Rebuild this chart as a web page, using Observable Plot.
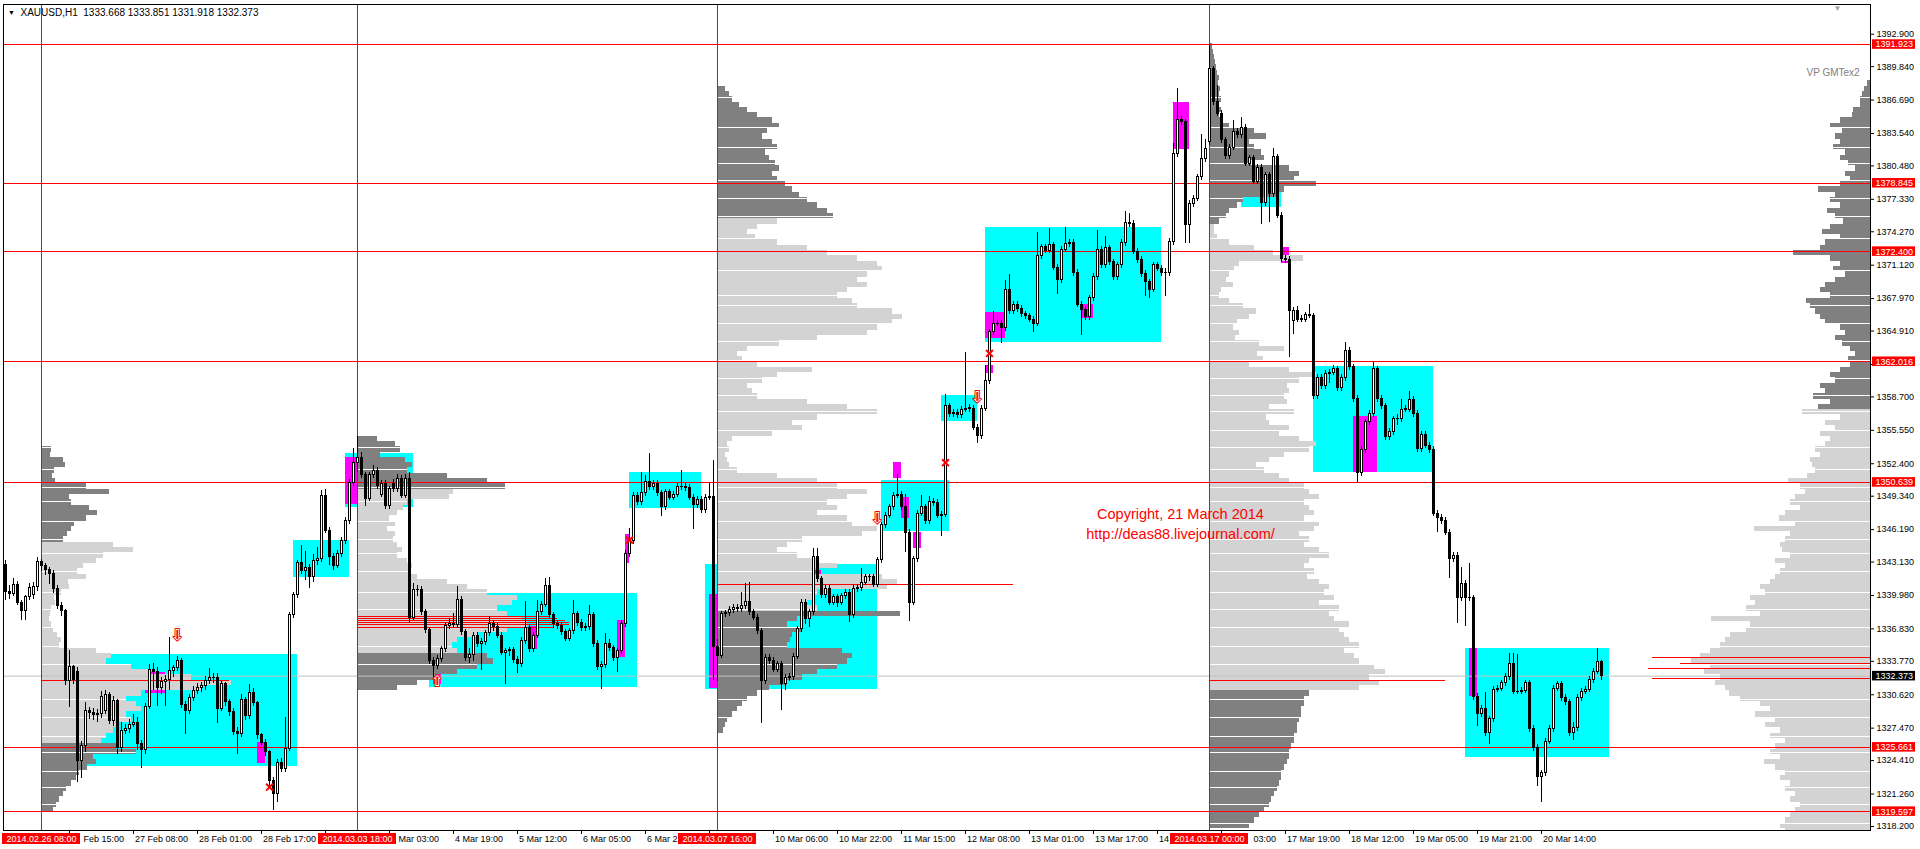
<!DOCTYPE html>
<html><head><meta charset="utf-8">
<script src="https://cdn.jsdelivr.net/npm/d3@7"></script>
<script src="https://cdn.jsdelivr.net/npm/@observablehq/plot@0.6"></script>
<style>html,body{margin:0;padding:0;background:#fff;overflow:hidden;}</style>
</head><body>
<script>
// ---------------- DATA ----------------
const opens = [
1342.9,1340.3,1340.1,1341.0,1339.3,1338.5,1339.8,1340.0,1340.8,1343.1,
1342.8,1342.4,1342.0,1340.6,1339.0,1338.5,1331.9,1333.2,1332.8,1324.4,
1325.8,1329.1,1328.9,1328.7,1328.8,1329.1,1330.6,1328.1,1330.0,1325.6,
1327.2,1327.4,1327.8,1328.0,1326.0,1325.4,1329.5,1333.0,1332.8,1331.3,
1331.8,1332.0,1332.9,1333.1,1333.8,1329.7,1329.1,1330.3,1331.0,1331.3,
1331.4,1331.9,1332.2,1332.2,1329.3,1331.6,1329.9,1329.0,1327.1,1326.9,
1330.1,1328.6,1330.8,1329.8,1326.8,1326.1,1325.2,1322.5,1321.3,1324.2,
1323.6,1325.5,1338.1,1340.0,1343.0,1342.3,1342.6,1341.7,1343.2,1343.4,
1349.4,1346.1,1343.6,1342.8,1343.9,1345.1,1347.0,1350.6,1352.5,1352.9,
1351.3,1349.1,1351.3,1351.7,1349.5,1350.5,1348.4,1350.5,1350.0,1351.0,
1349.4,1351.0,1337.9,1340.5,1340.5,1338.4,1336.7,1333.8,1333.3,1334.0,
1334.9,1337.1,1337.3,1337.2,1339.6,1336.5,1334.1,1334.4,1336.2,1335.4,
1335.6,1336.4,1337.3,1337.0,1336.2,1334.6,1334.7,1334.8,1333.9,1333.5,
1335.7,1336.9,1334.9,1336.2,1338.4,1339.1,1340.9,1338.1,1337.3,1337.1,
1336.5,1335.9,1336.6,1338.2,1337.4,1336.9,1337.0,1338.1,1335.4,1333.2,
1333.4,1335.4,1335.0,1334.1,1334.7,1337.3,1343.9,1345.1,1349.4,1348.8,
1349.6,1350.7,1350.2,1350.5,1349.6,1348.3,1349.7,1349.2,1349.5,1350.2,
1350.2,1350.1,1349.2,1348.5,1349.0,1348.0,1349.2,1349.3,1335.1,1334.3,
1338.2,1338.3,1338.6,1338.8,1338.7,1339.0,1339.4,1338.4,1337.9,1336.6,
1331.9,1334.1,1333.8,1333.0,1333.5,1331.6,1332.2,1332.3,1334.2,1336.8,
1339.3,1337.8,1338.4,1343.6,1341.5,1340.0,1340.6,1339.3,1339.8,1339.3,
1339.9,1340.2,1338.1,1340.6,1340.7,1341.2,1341.7,1341.7,1341.0,1343.3,
1346.6,1347.5,1348.3,1349.4,1349.5,1348.3,1345.9,1339.3,1343.4,1347.7,
1348.3,1347.0,1348.8,1348.7,1347.5,1347.6,1357.8,1357.1,1357.2,1357.0,
1357.5,1357.6,1357.6,1355.8,1355.0,1357.6,1360.2,1364.8,1365.6,1365.6,
1365.2,1368.8,1366.8,1367.4,1367.0,1366.5,1366.3,1366.0,1365.6,1372.0,
1372.8,1372.5,1373.0,1370.9,1369.7,1372.6,1373.1,1373.2,1370.4,1367.4,
1366.9,1366.2,1368.0,1370.0,1372.6,1371.1,1372.7,1371.4,1370.0,1371.1,
1373.2,1375.1,1375.0,1372.4,1371.6,1370.3,1369.5,1368.8,1371.1,1370.8,
1370.4,1370.4,1373.3,1381.6,1384.8,1384.6,1374.9,1376.9,1377.4,1379.4,
1381.1,1382.7,1389.6,1386.5,1385.4,1382.9,1381.4,1382.2,1383.7,1383.4,
1384.1,1380.7,1381.2,1379.0,1380.3,1377.0,1379.6,1377.8,1381.3,1375.8,
1371.7,1371.6,1365.9,1366.8,1366.0,1366.0,1366.4,1366.3,1358.8,1360.5,
1359.7,1360.9,1361.0,1361.3,1359.5,1360.5,1363.0,1361.5,1358.5,1351.5,
1353.7,1356.3,1357.1,1361.3,1358.5,1357.8,1354.9,1355.4,1356.6,1356.6,
1357.5,1357.5,1358.4,1357.1,1353.8,1355.1,1354.1,1353.7,1347.7,1347.3,
1347.0,1345.9,1343.4,1343.7,1339.7,1341.1,1339.7,1339.7,1330.4,1328.8,
1329.3,1327.0,1328.3,1331.1,1331.2,1331.7,1332.3,1333.5,1330.9,1330.9,
1331.0,1331.7,1327.4,1325.6,1322.9,1323.2,1326.2,1327.4,1331.2,1331.6,
1330.3,1329.9,1327.0,1327.5,1330.3,1330.9,1331.1,1332.0,1332.8,1333.668];
const highs = [
1343.3,1340.9,1341.6,1341.3,1339.5,1340.0,1341.1,1341.2,1343.6,1343.4,
1343.0,1342.6,1342.3,1340.9,1339.3,1338.7,1334.8,1333.4,1333.2,1326.2,
1329.9,1329.4,1329.3,1329.2,1330.9,1331.0,1330.8,1330.5,1330.2,1328.0,
1327.8,1328.3,1328.8,1328.5,1326.3,1329.8,1333.5,1333.6,1333.2,1332.2,
1332.4,1336.0,1333.4,1334.2,1334.0,1330.0,1330.6,1331.4,1331.7,1331.8,
1332.3,1333.1,1332.6,1332.6,1331.9,1331.8,1330.2,1329.3,1327.5,1330.6,
1330.4,1331.6,1331.2,1330.0,1327.0,1326.4,1325.4,1322.8,1324.5,1324.6,
1328.5,1338.4,1340.3,1343.3,1344.7,1344.1,1342.9,1343.8,1344.5,1349.9,
1350.0,1346.4,1343.9,1344.2,1345.4,1347.3,1350.9,1353.8,1355.0,1353.5,
1351.6,1351.6,1352.2,1352.0,1350.8,1350.8,1350.3,1350.9,1351.4,1351.3,
1351.4,1351.6,1341.1,1340.9,1340.8,1338.7,1337.0,1334.1,1334.3,1335.2,
1337.4,1337.8,1338.3,1340.8,1339.9,1336.8,1335.0,1336.5,1336.5,1335.9,
1336.7,1338.0,1337.6,1337.3,1336.5,1335.0,1335.1,1335.1,1334.2,1336.0,
1339.4,1337.2,1336.5,1339.5,1339.4,1341.6,1341.7,1338.4,1337.6,1337.4,
1336.8,1336.9,1339.5,1338.5,1337.7,1337.3,1339.0,1338.4,1335.7,1333.8,
1336.4,1335.8,1335.3,1335.0,1337.6,1344.2,1346.3,1349.7,1349.7,1351.6,
1351.3,1353.4,1350.8,1350.8,1349.9,1350.0,1350.0,1349.8,1350.5,1351.8,
1350.5,1350.4,1349.5,1349.3,1349.3,1349.5,1350.6,1352.7,1335.8,1338.5,
1338.6,1338.9,1339.1,1339.1,1340.3,1341.1,1341.2,1338.7,1338.2,1336.9,
1334.4,1334.4,1334.1,1333.8,1333.8,1332.5,1332.6,1334.5,1337.1,1339.6,
1339.6,1338.7,1344.4,1344.4,1341.8,1340.9,1340.9,1340.1,1340.1,1340.2,
1340.5,1340.5,1340.9,1341.0,1342.5,1342.0,1342.0,1342.0,1343.6,1346.9,
1347.8,1348.6,1349.7,1351.4,1349.8,1349.5,1346.2,1343.7,1348.0,1349.4,
1348.6,1349.3,1349.1,1349.0,1347.9,1358.9,1358.1,1357.5,1357.5,1357.8,
1362.9,1358.0,1357.9,1356.1,1357.9,1361.7,1365.1,1366.8,1365.9,1365.9,
1369.7,1370.2,1367.7,1367.7,1367.3,1366.8,1366.6,1366.3,1374.2,1373.1,
1373.1,1374.6,1373.3,1371.2,1372.9,1374.7,1373.5,1373.5,1370.7,1367.7,
1367.2,1368.3,1370.3,1374.4,1372.9,1373.8,1373.0,1371.7,1371.4,1373.5,
1376.2,1376.0,1375.3,1372.7,1371.9,1370.6,1369.8,1371.4,1371.4,1371.1,
1370.8,1373.6,1382.6,1387.8,1385.1,1384.9,1377.2,1377.7,1379.7,1383.4,
1383.0,1391.9,1389.9,1388.1,1385.7,1383.2,1382.5,1384.8,1384.0,1385.0,
1384.4,1381.5,1381.5,1380.6,1380.6,1379.9,1379.9,1382.1,1381.6,1376.1,
1372.0,1371.9,1367.1,1367.2,1366.4,1366.7,1367.4,1366.6,1360.8,1360.8,
1361.2,1361.3,1361.7,1361.6,1360.8,1363.8,1363.4,1361.8,1358.8,1354.0,
1356.6,1357.4,1361.9,1361.6,1358.8,1358.1,1355.7,1356.9,1357.0,1358.5,
1357.9,1359.2,1358.7,1357.4,1355.4,1355.4,1354.4,1354.0,1348.0,1347.6,
1347.3,1346.2,1344.0,1344.0,1342.6,1341.4,1343.0,1340.0,1330.7,1329.6,
1330.8,1328.6,1331.4,1331.5,1332.0,1332.6,1334.5,1334.5,1334.4,1331.3,
1332.0,1332.0,1327.7,1325.9,1323.5,1326.5,1327.7,1331.5,1331.9,1331.9,
1330.6,1330.2,1328.0,1330.6,1331.2,1331.4,1332.3,1333.1,1335.0,1333.851];
const lows = [
1339.5,1339.6,1339.9,1339.0,1337.6,1337.6,1339.5,1339.6,1340.4,1342.2,
1341.9,1341.0,1340.2,1338.7,1338.0,1331.5,1329.4,1331.6,1322.3,1322.7,
1325.2,1328.3,1328.2,1328.0,1328.4,1328.8,1327.8,1327.6,1325.0,1325.2,
1326.9,1327.0,1327.5,1325.4,1323.7,1325.0,1329.2,1331.0,1329.5,1330.6,
1329.5,1331.0,1332.2,1332.8,1329.3,1326.9,1328.8,1330.0,1330.6,1330.8,
1331.0,1331.6,1331.7,1327.9,1329.0,1329.5,1328.6,1326.8,1325.0,1326.6,
1328.2,1328.3,1329.5,1326.4,1325.8,1324.8,1322.0,1319.7,1320.5,1323.3,
1323.3,1325.3,1337.8,1339.7,1342.0,1341.4,1340.6,1341.2,1342.8,1343.1,
1345.8,1342.8,1342.3,1342.5,1343.6,1344.8,1346.7,1350.3,1351.6,1351.0,
1348.4,1348.8,1351.0,1350.0,1349.2,1348.1,1348.1,1349.7,1349.7,1349.1,
1349.1,1337.3,1337.6,1339.9,1338.1,1336.4,1333.5,1332.2,1333.0,1333.7,
1334.6,1336.8,1336.9,1336.9,1336.2,1333.8,1333.6,1333.8,1335.1,1332.9,
1335.3,1336.1,1336.6,1335.9,1334.3,1331.6,1334.2,1333.6,1332.6,1333.2,
1335.4,1334.6,1334.6,1335.9,1338.1,1338.8,1337.8,1336.9,1336.8,1336.2,
1335.6,1335.6,1336.3,1337.1,1336.6,1336.6,1336.7,1335.1,1332.9,1331.1,
1333.1,1334.7,1333.8,1332.7,1334.4,1337.0,1343.6,1344.8,1348.5,1348.5,
1349.3,1349.9,1349.9,1349.3,1347.4,1348.0,1348.9,1348.9,1349.2,1349.9,
1349.8,1348.9,1346.2,1348.2,1347.7,1347.7,1348.9,1332.0,1331.9,1334.0,
1337.9,1338.0,1338.3,1338.4,1338.4,1338.7,1338.1,1337.6,1336.3,1327.9,
1331.6,1333.5,1332.7,1332.7,1329.1,1331.0,1331.9,1332.0,1333.9,1336.5,
1337.2,1337.0,1338.1,1341.2,1339.7,1339.7,1339.0,1339.0,1338.8,1339.0,
1339.6,1337.4,1337.8,1340.3,1340.4,1340.9,1341.3,1340.7,1340.7,1343.0,
1346.3,1347.2,1348.0,1349.1,1348.0,1344.0,1337.5,1339.0,1343.1,1347.4,
1346.7,1346.7,1348.4,1347.2,1345.5,1347.3,1356.8,1356.8,1356.7,1356.7,
1357.2,1357.2,1355.5,1354.3,1354.7,1357.3,1359.9,1364.5,1365.3,1363.7,
1364.9,1366.5,1366.5,1366.7,1366.2,1366.0,1365.7,1364.8,1365.3,1371.7,
1372.2,1372.2,1370.6,1368.4,1369.4,1372.3,1372.8,1370.1,1367.1,1364.5,
1365.9,1365.9,1367.7,1369.7,1370.8,1370.8,1371.1,1369.7,1369.7,1370.8,
1372.9,1374.7,1372.1,1371.3,1370.0,1368.2,1368.0,1368.5,1370.5,1370.1,
1368.2,1370.1,1373.0,1381.3,1384.3,1373.2,1373.2,1376.6,1377.1,1379.1,
1380.8,1382.4,1386.2,1385.1,1382.6,1381.1,1381.1,1381.9,1383.1,1383.1,
1380.4,1380.4,1378.7,1378.7,1375.0,1376.7,1375.1,1377.5,1375.5,1371.4,
1371.3,1362.4,1364.6,1365.7,1365.7,1365.7,1366.1,1358.5,1358.5,1359.4,
1359.4,1360.0,1360.7,1359.2,1359.2,1360.2,1361.2,1358.2,1350.6,1351.2,
1353.4,1356.0,1356.8,1358.2,1357.5,1354.6,1354.6,1355.1,1356.0,1356.3,
1357.2,1357.2,1356.8,1353.5,1353.5,1353.8,1353.4,1347.4,1345.9,1346.7,
1345.6,1341.6,1343.1,1337.3,1339.4,1337.1,1339.4,1330.1,1327.6,1328.5,
1326.7,1325.9,1328.0,1330.8,1330.9,1331.4,1332.0,1330.6,1330.6,1330.6,
1330.7,1327.1,1325.3,1322.0,1320.5,1322.9,1325.9,1327.1,1330.9,1330.0,
1329.6,1326.7,1326.3,1327.2,1330.0,1330.6,1330.8,1331.7,1332.5,1331.918];
const closes = [
1340.3,1340.1,1341.0,1339.3,1338.5,1339.8,1340.7,1340.8,1343.1,1342.8,
1342.4,1342.0,1340.6,1339.0,1338.5,1331.9,1333.2,1332.0,1324.4,1325.8,
1329.1,1328.9,1328.7,1328.8,1330.4,1330.6,1328.1,1330.0,1325.6,1327.2,
1327.4,1327.8,1328.0,1326.0,1325.4,1329.5,1333.0,1332.8,1331.3,1331.8,
1332.0,1332.9,1333.1,1333.8,1329.7,1329.1,1330.3,1331.0,1331.3,1331.4,
1331.9,1332.2,1332.2,1329.3,1331.6,1329.9,1329.0,1327.1,1326.9,1330.1,
1328.6,1330.8,1329.8,1326.8,1326.1,1325.2,1322.5,1321.3,1324.2,1323.6,
1325.5,1338.1,1340.0,1343.0,1342.3,1342.6,1341.7,1343.2,1343.4,1349.4,
1346.1,1343.6,1342.8,1343.9,1345.1,1347.0,1350.6,1352.5,1352.9,1351.3,
1349.1,1351.3,1351.7,1350.3,1350.5,1348.4,1350.0,1350.0,1351.0,1349.4,
1351.0,1337.9,1340.5,1340.5,1338.4,1336.7,1333.8,1333.3,1334.0,1334.9,
1337.1,1337.3,1337.2,1339.6,1336.5,1334.1,1334.4,1336.2,1335.4,1335.6,
1336.4,1337.3,1337.0,1336.2,1334.6,1334.7,1334.8,1333.9,1333.5,1335.7,
1336.9,1334.9,1336.2,1338.4,1339.1,1340.9,1338.1,1337.3,1337.1,1336.5,
1335.9,1336.6,1338.2,1337.4,1336.9,1337.0,1338.1,1335.4,1333.2,1333.4,
1335.4,1335.0,1334.1,1334.7,1337.3,1343.9,1345.1,1349.4,1348.8,1349.6,
1350.7,1350.2,1350.5,1349.6,1348.3,1349.7,1349.2,1349.5,1350.2,1350.2,
1350.1,1349.2,1348.5,1349.0,1348.0,1349.2,1349.3,1335.1,1334.3,1338.2,
1338.3,1338.6,1338.8,1338.7,1339.0,1339.4,1338.4,1337.9,1336.6,1331.9,
1334.1,1333.8,1333.0,1333.5,1331.6,1332.2,1332.3,1334.2,1336.8,1339.3,
1337.8,1338.4,1343.6,1341.5,1340.0,1340.6,1339.3,1339.8,1339.3,1339.9,
1340.2,1338.1,1340.6,1340.7,1341.2,1341.7,1341.7,1341.0,1343.3,1346.6,
1347.5,1348.3,1349.4,1349.5,1348.3,1345.9,1339.3,1343.4,1347.7,1348.3,
1347.0,1348.8,1348.7,1347.5,1347.6,1357.8,1357.1,1357.2,1357.0,1357.5,
1357.6,1357.6,1355.8,1355.0,1357.6,1360.2,1364.8,1365.6,1365.6,1365.2,
1368.8,1366.8,1367.4,1367.0,1366.5,1366.3,1366.0,1365.6,1372.0,1372.8,
1372.5,1373.0,1370.9,1369.7,1372.6,1373.1,1373.2,1370.4,1367.4,1366.9,
1366.2,1368.0,1370.0,1372.6,1371.1,1372.7,1371.4,1370.0,1371.1,1373.2,
1375.1,1375.0,1372.4,1371.6,1370.3,1369.5,1368.8,1371.1,1370.8,1370.4,
1370.4,1373.3,1381.6,1384.8,1384.6,1374.9,1376.9,1377.4,1379.4,1381.1,
1382.1,1389.6,1386.5,1385.4,1382.9,1381.4,1382.2,1383.7,1383.4,1384.1,
1380.7,1381.2,1379.0,1380.3,1377.0,1379.6,1377.8,1381.3,1375.8,1371.7,
1371.6,1366.8,1366.8,1366.0,1366.0,1366.4,1366.3,1358.8,1360.5,1359.7,
1360.9,1361.0,1361.3,1359.5,1360.5,1363.0,1361.5,1358.5,1351.5,1353.7,
1356.3,1357.1,1361.3,1358.5,1357.8,1354.9,1355.4,1356.6,1356.6,1357.5,
1357.5,1358.4,1357.1,1353.8,1355.1,1354.1,1353.7,1347.7,1347.3,1347.0,
1345.9,1343.4,1343.7,1339.7,1341.1,1339.7,1339.7,1330.4,1328.8,1329.3,
1327.0,1328.3,1331.1,1331.2,1331.7,1332.3,1333.5,1330.9,1330.9,1331.0,
1331.7,1327.4,1325.6,1322.9,1323.2,1326.2,1327.4,1331.2,1331.6,1330.3,
1329.9,1327.0,1327.5,1330.3,1330.9,1331.1,1332.0,1332.8,1333.7,1332.373];

// Volume profiles: bar widths (px of volume) per 0.5 price bin, from the top bin down
const p1W = [10,9,22,24,13,11,14,45,68,28,30,48,56,45,33,30,26,22,
72,92,62,55,42,36,45,27,28,20,13,14,10,9,8,10,12,16,20,18,55,70,65,90,110,150,190,160,100,85,95,100,85,90,78,72,65,60,
75,95,52,55,46,38,35,30,25,22,18,15,12];
const p2W = [20,38,43,23,48,55,50,90,130,148,
96,92,50,46,40,32,38,30,38,36,40,45,40,50,55,52,60,90,110,130,160,155,140,150,165,170,150,120,100,95,100,
130,136,120,100,80,60,40];
const p3W = [8,12,15,22,30,40,55,62,50,45,55,60,48,52,58,62,55,60,68,75,82,90,100,110,116,
60,40,30,38,60,90,110,140,160,165,150,140,150,130,120,135,140,175,185,175,160,150,100,62,30,20,25,40,95,60,
45,30,35,40,90,130,160,100,75,85,55,15,10,12,8,10,12,20,60,100,120,150,130,110,120,100,130,135,160,145,
85,70,60,80,100,120,95,165,180,170,100,95,90,100,
183,80,70,85,75,73,70,125,135,130,120,100,85,70,52,40,30,25,20,15,10,8,6];
const p4W = [3,4,5,6,7,8,10,9,11,10,12,10,12,10,14,20,45,57,40,45,52,55,42,80,90,85,107,75,70,34,28,20,17,10,
5,5,8,20,45,64,94,30,25,20,17,24,12,10,20,34,47,40,28,24,30,26,50,75,48,54,40,80,107,90,
78,80,75,78,60,85,57,60,80,70,90,107,100,75,60,47,55,70,80,95,100,110,95,100,105,95,110,105,90,100,
95,110,120,100,95,105,98,110,120,115,125,110,130,120,125,140,130,135,140,150,135,145,150,165,176,160,170,150,
100,95,95,92,92,90,88,88,85,85,82,80,80,78,75,72,72,70,68,65,62,60,55,50,45,40];
const p5W = [3,6,8,10,10,17,18,30,40,28,35,30,37,25,30,22,15,25,20,30,52,35,40,30,43,35,27,40,48,30,
45,50,77,40,30,37,25,35,45,50,40,64,60,55,50,45,30,25,35,28,20,15,22,20,30,40,35,50,45,57,40,52,
68,30,45,35,50,40,45,55,50,60,58,55,63,82,70,65,75,80,70,85,91,75,116,80,85,90,88,80,95,85,
90,95,100,110,105,120,115,124,110,159,120,124,140,145,150,160,170,179,160,166,150,155,145,141,130,110,100,115,95,105,
90,100,85,95,100,90,106,95,85,90,80,85,75,80,70,75,80,85,90,85];
// empty price rows seen as white hairlines across the profiles
const profileGaps = [1386.96,1384.1,1382.25,1380.7,1379.1,1377.4,1375.7,1373.6,1370.6,1368.3,1367.3,1365.6,1363.9,1362.1,
1360.4,1358.8,1357.3,1355.5,1353.96,1351.9,1350.2,1348.8,1347.0,1345.3,1343.9,1342.2,1340.3,1338.7,1337.0,1335.2,
1333.5,1330.2,1328.5,1326.7,1325.2,1323.4,1321.9,1320.3,1318.5];

// session starts (bar index) and their labels
const sessionBars = [9, 88, 178, 301];
const sessionLabels = ["2014.02.26 08:00", "2014.03.03 18:00", "2014.03.07 16:00", "2014.03.17 00:00"];
// profile anchors / tops / value-area limits
const profileAnchor = [9, 88, 178, 301, "right"];
const profileTop = [1354.0, 1355.0, 1388.0, 1392.0, 1388.5];
const profileVAHigh = [1345.0, 1350.0, 1375.5, 1375.0, 1357.5];
const profileVALow = [1326.0, 1334.5, 1338.5, 1331.0, -Infinity];

// balance boxes [startBar, endBar, low, high]
const cyanBoxes = [[19,73,1323.85,1334.45],[85,102,1348.3,1353.4],[72,86,1341.7,1345.2],[106,158,1331.3,1340.2],
[156,174,1348.2,1351.6],[175,218,1331.1,1342.9],[219,236,1346.0,1350.8],[234,243,1356.4,1358.8],
[245,289,1363.8,1374.7],[309,319,1376.6,1380.4],[327,357,1351.6,1361.6],[365,401,1324.7,1335.0]];
const magentaBoxes = [[107,109,1331.6,1332.9],[35,40,1330.7,1332.7],[63,65,1324.1,1326.1],[85,88,1348.6,1353.0],
[131,133,1334.9,1337.1],[153,155,1334.1,1337.6],[155,156,1343.0,1345.7],[176,178,1331.2,1340.1],
[202,204,1340.7,1342.3],[222,224,1351.0,1352.5],[224,226,1347.2,1349.2],[227,229,1344.4,1345.9],
[245,250,1364.2,1366.7],[245,247,1360.9,1361.7],[269,272,1366.1,1367.4],[292,296,1382.0,1386.5],
[319,321,1371.3,1372.8],[337,343,1351.6,1356.9],[366,368,1330.5,1335.0]];

// horizontal levels
const redLevels = [1391.923, 1378.845, 1372.400, 1362.016, 1350.639, 1325.661, 1319.597];
const currentPrice = 1332.373;
// naked POC segments [price, fromBar, toBar]
const pocLines = [[1332.0,9,56],[1337.0,88,137],[1337.2,88,141],[1337.4,88,141],[1337.6,88,140],[1337.8,88,138],[1338.0,88,136],
[1341.0,178,252],[1332.0,301,360],[1334.1,411.75,466.25],[1333.55,418.7,466.25],[1333.08,410.75,466.25],[1332.13,411.75,466.25]];

// signal markers [bar, price]
const downArrows = [[43,1336.2],[218,1347.3],[243,1358.7]];
const upArrows = [[108,1331.9]];
const crosses = [[66,1321.9],[156,1345.2],[235,1352.5],[246,1362.8]];

// axis ticks
const yTicks = [1392.900,1389.840,1386.690,1383.540,1380.480,1377.330,1374.270,1371.120,1367.970,1364.910,1361.760,
1358.700,1355.550,1352.400,1349.340,1346.190,1343.130,1339.980,1336.830,1333.770,1330.620,1327.470,1324.410,1321.260,1318.200];
const yTicksHidden = [1361.760];   // covered by the 1362.016 marker in the original
const xTickBars = [16,32,48,64,80,96,112,128,144,160,176,192,208,224,240,256,272,288,304,320,336,352,368,384];
const xTickLabels = ["26 Feb 15:00","27 Feb 08:00","28 Feb 01:00","28 Feb 17:00","3 Mar 10:00","4 Mar 03:00","4 Mar 19:00",
"5 Mar 12:00","6 Mar 05:00","6 Mar 21:00","7 Mar 14:00","10 Mar 06:00","10 Mar 22:00","11 Mar 15:00","12 Mar 08:00",
"13 Mar 01:00","13 Mar 17:00","14 Mar 10:00","17 Mar 03:00","17 Mar 19:00","18 Mar 12:00","19 Mar 05:00","19 Mar 21:00","20 Mar 14:00"];
// the part of each tick label that is left visible next to the red session stamps
const xTickVisible = ["Feb 15:00","27 Feb 08:00","28 Feb 01:00","28 Feb 17:00","","Mar 03:00","4 Mar 19:00",
"5 Mar 12:00","6 Mar 05:00","6 Mar 2","","10 Mar 06:00","10 Mar 22:00","11 Mar 15:00","12 Mar 08:00",
"13 Mar 01:00","13 Mar 17:00","14","03:00","17 Mar 19:00","18 Mar 12:00","19 Mar 05:00","19 Mar 21:00","20 Mar 14:00"];

// ---------------- LAYOUT ----------------
const W = 1920, H = 849, mL = 3, mR = 50, mT = 4, mB = 19;
const xDomain = [-0.5, 466.25];
const yDomain = [1317.82, 1395.70];
const pxX = px => xDomain[0] + (px - mL) * (xDomain[1] - xDomain[0]) / (W - mL - mR);
const pxY = py => yDomain[1] - (py - mT) * (yDomain[1] - yDomain[0]) / (H - mT - mB);
const barsPerPx = (xDomain[1] - xDomain[0]) / (W - mL - mR);

if (![opens, highs, lows, closes].every(a => a.length === 400)) throw new Error("bad lengths " + [opens.length, highs.length, lows.length, closes.length]);

const bars = closes.map((c, i) => ({i, o: opens[i], h: highs[i], l: lows[i], c}));
const profW = [p1W, p2W, p3W, p4W, p5W];
const rows = [], gapRows = [];
profW.forEach((w, p) => {
  const right = profileAnchor[p] === "right";
  const a = right ? xDomain[1] : profileAnchor[p];
  const end = v => a + (right ? -1 : 1) * v * barsPerPx;
  w.forEach((v, k) => {
    const y2 = profileTop[p] - k * 0.5, y1 = y2 - 0.5;
    rows.push({x1: a, x2: end(v), y1, y2, dark: y1 >= profileVAHigh[p] || y2 <= profileVALow[p]});
  });
  profileGaps.forEach(g => {
    const k = Math.floor((profileTop[p] - g) / 0.5);
    if (k >= 0 && k < w.length) gapRows.push({y: g, x1: a, x2: end(w[k])});
  });
});
const sessions = sessionBars.map((b, i) => ({bar: b, label: sessionLabels[i]}));
const fmt3 = d3.format(".3f");
const ctx = document.createElement("canvas").getContext("2d");
ctx.font = "9px 'Liberation Sans'";
// tick labels: prefix-visible ones start at the tick, suffix-visible ones end where the full label would end
const xLabStart = [], xLabEnd = [];
xTickBars.forEach((b, i) => {
  const vis = xTickVisible[i], full = xTickLabels[i];
  if (!vis) return;
  if (full.startsWith(vis)) xLabStart.push({x: b + 1.5 * barsPerPx, text: vis});
  else xLabEnd.push({x: b + (1.5 + ctx.measureText(full).width) * barsPerPx, text: vis});
});
const L = bars[bars.length - 1];
const header = `XAUUSD,H1  ${fmt3(L.o)} ${fmt3(L.h)} ${fmt3(L.l)} ${fmt3(L.c)}`;
const RED = "#ff0000";
const labY = pxY(839);

const chart = Plot.plot({
  width: W, height: H,
  marginLeft: mL, marginRight: mR, marginTop: mT, marginBottom: mB,
  x: {domain: xDomain, axis: null},
  y: {domain: yDomain, axis: null},
  color: {type: "identity"},
  style: {fontFamily: "Liberation Sans, Arial, sans-serif", fontSize: "9px", background: "white", color: "black", overflow: "visible"},
  marks: [
    Plot.rect(cyanBoxes, {x1: d => d[0], x2: d => d[1], y1: d => d[2], y2: d => d[3], fill: "#00ffff", shapeRendering: "crispEdges"}),
    Plot.rect(magentaBoxes, {x1: d => d[0], x2: d => d[1], y1: d => d[2], y2: d => d[3], fill: "#ff00ff", shapeRendering: "crispEdges"}),
    Plot.rect(rows, {x1: "x1", x2: "x2", y1: "y1", y2: "y2", fill: d => d.dark ? "#808080" : "#d3d3d3", clip: true, shapeRendering: "crispEdges"}),
    Plot.ruleY(gapRows, {y: "y", x1: "x1", x2: "x2", stroke: "white", clip: true, shapeRendering: "crispEdges"}),
    Plot.ruleY([currentPrice], {stroke: "#c0c0c0"}),
    Plot.ruleY(redLevels, {stroke: RED, shapeRendering: "crispEdges"}),
    Plot.ruleY(pocLines, {y: d => d[0], x1: d => d[1], x2: d => d[2], stroke: RED, shapeRendering: "crispEdges"}),
    Plot.ruleX(sessionBars, {stroke: RED, shapeRendering: "crispEdges"}),
    // candles
    Plot.ruleX(bars, {x: "i", y1: "l", y2: "h", stroke: "black", shapeRendering: "crispEdges"}),
    Plot.rect(bars, {
      x1: d => d.i - 0.25, x2: d => d.i + 0.25,
      y1: d => Math.min(d.o, d.c), y2: d => Math.max(Math.max(d.o, d.c), Math.min(d.o, d.c) + 0.02),
      fill: d => d.c >= d.o ? "white" : "black", stroke: "black", strokeWidth: 1, shapeRendering: "crispEdges"
    }),
    // markers
    Plot.text(downArrows, {x: d => d[0], y: d => d[1], text: () => "\u21E9", fill: "white", stroke: RED, strokeWidth: 2, fontSize: 15, fontFamily: "DejaVu Sans"}),
    Plot.text(upArrows, {x: d => d[0], y: d => d[1], text: () => "\u21E7", fill: "white", stroke: RED, strokeWidth: 2, fontSize: 15, fontFamily: "DejaVu Sans"}),
    Plot.dot(crosses, {x: d => d[0], y: d => d[1], symbol: "times", r: 3.2, stroke: RED, strokeWidth: 2}),
    // texts
    Plot.text(["\u25BC"], {x: pxX(11), y: pxY(12), text: d => d, fontSize: 7, fill: "black"}),
    Plot.text([header], {x: pxX(20), y: pxY(12), text: d => d, textAnchor: "start", fontSize: 10, fill: "black"}),
    Plot.text(["\u25BC"], {x: pxX(1837), y: pxY(8), text: d => d, fontSize: 8, fill: "#a0a0a0"}),
    Plot.text(["VP GMTex2"], {x: pxX(1806), y: pxY(72), text: d => d, textAnchor: "start", fontSize: 10, fill: "#808080"}),
    Plot.text(["Copyright, 21 March 2014", "http://deas88.livejournal.com/"], {x: pxX(1180), y: (d, i) => pxY(i === 0 ? 514 : 534), text: d => d, fontSize: 14.5, fill: RED}),
    Plot.frame({stroke: "black"}),
    // y axis
    Plot.axisY(yTicks, {anchor: "right", tickSize: 3, tickPadding: 3, tickFormat: d => yTicksHidden.includes(d) ? "" : fmt3(d), fontSize: 9, label: null}),
    // x axis: tick marks + labels
    Plot.ruleX(xTickBars, {x: d => d, y1: () => pxY(830), y2: () => pxY(834), stroke: "black"}),
    Plot.text(xLabStart, {x: "x", y: () => labY, text: "text", textAnchor: "start", fontSize: 9, fill: "black"}),
    Plot.text(xLabEnd, {x: "x", y: () => labY, text: "text", textAnchor: "end", fontSize: 9, fill: "black"}),
    // highlighted labels
    Plot.rect(redLevels, {x1: pxX(1872), x2: pxX(1915), y1: d => d - 0.45, y2: d => d + 0.45, fill: RED}),
    Plot.text(redLevels, {x: pxX(1875), y: d => d, text: fmt3, textAnchor: "start", fill: "white", fontSize: 9}),
    Plot.rect([currentPrice], {x1: pxX(1872), x2: pxX(1915), y1: d => d - 0.45, y2: d => d + 0.45, fill: "black"}),
    Plot.text([currentPrice], {x: pxX(1875), y: d => d, text: fmt3, textAnchor: "start", fill: "white", fontSize: 9}),
    Plot.rect(sessions, {x1: d => d.bar - 9.75, x2: d => d.bar + 9.75, y1: () => pxY(833), y2: () => pxY(844), fill: RED}),
    Plot.text(sessions, {x: "bar", y: () => labY, text: "label", fill: "white", fontSize: 9})
  ]
});
document.body.append(chart);
</script>
</body></html>
